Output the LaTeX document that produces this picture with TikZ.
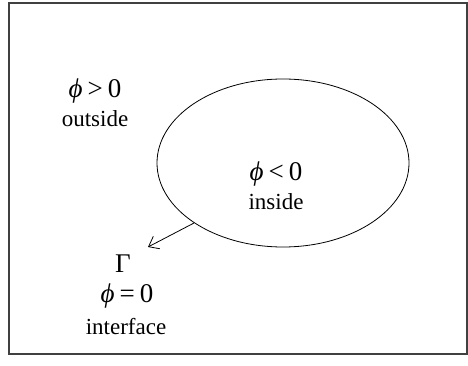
\documentclass[tikz,border=0pt]{standalone}
\usepackage{fontspec}
\setmainfont{Liberation Serif}
\usetikzlibrary{arrows.meta,shapes.geometric}
\tikzset{
  lbl/.style={inner sep=0pt, font=\fontsize{23}{26}\selectfont},
  phi/.style={inner sep=0pt, font=\fontsize{27}{30}\selectfont},
}
\newcommand{\myphi}{{\itshape ϕ}}
\begin{document}
\begin{tikzpicture}[x=1pt,y=-1pt]
\useasboundingbox (0,0) rectangle (468,366);
\draw[line width=1.4pt, black!75] (9,3) rectangle (467,354);
\node[draw, ellipse, minimum width=252pt, minimum height=168pt, line width=0.8pt, inner sep=0pt] (ell) at (283,163) {};
\node[phi] (out) at (95,91) {\myphi\kern5pt>\kern5pt0};
\node[lbl] (outl) at (95,119) {outside};
\node[phi] (in) at (276,174) {\myphi\kern5pt<\kern5pt0};
\node[lbl] (inl) at (276,202) {inside};
\node[phi] (gam) at (123,264) {Γ};
\node[phi] (eq) at (127,296) {\myphi\kern5pt=\kern5pt0};
\node[lbl] (intl) at (126,327) {interface};
\coordinate (tip) at (148,247);
\draw[line width=0.8pt, -{Straight Barb[length=9pt,width=14pt]}] (ell.214) -- (tip);
\end{tikzpicture}
\end{document}
